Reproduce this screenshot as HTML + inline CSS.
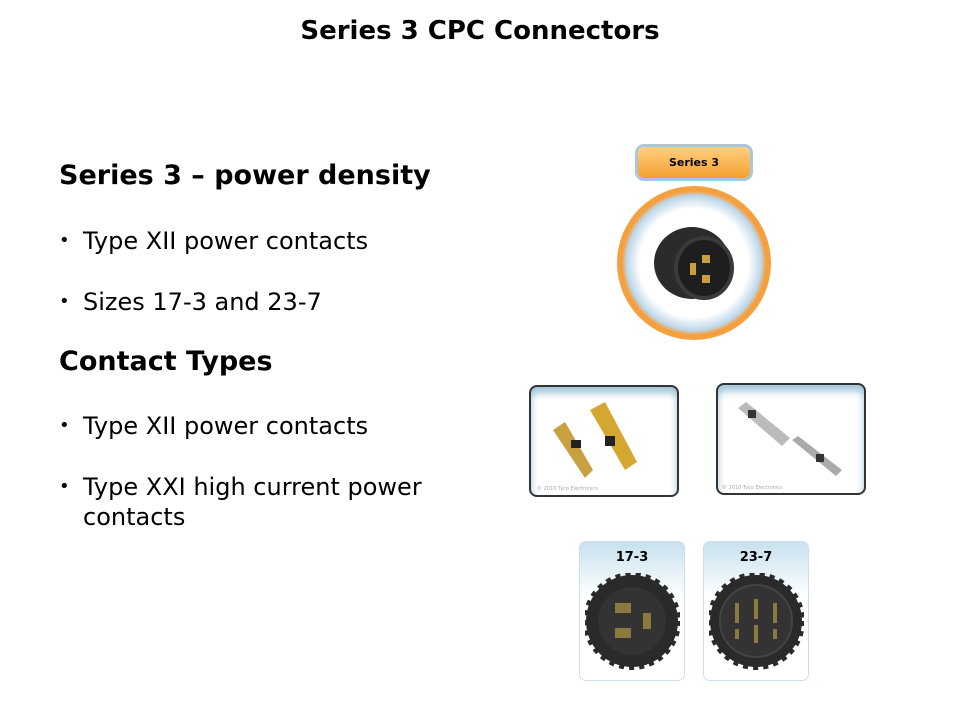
<!DOCTYPE html>
<html><head><style>
body{margin:0;width:960px;height:720px;background:#fff;position:relative;overflow:hidden;font-family:"DejaVu Sans","Liberation Sans",sans-serif;}
.t{position:absolute;color:#000;white-space:nowrap;}
h1{position:absolute;top:16px;left:0;width:960px;text-align:center;font-size:26px;margin:0;font-weight:bold;}
.h{font-size:27px;font-weight:bold;left:59px;}
.b{font-size:24px;left:59px;line-height:30px;}
.b span{position:absolute;left:0;font-size:18px;}
.b div{margin-left:24px;}
.box{position:absolute;border:2px solid #333;border-radius:8px;background:#fff;box-shadow:inset 0 6px 8px #9fc3d8;}
.cr{position:absolute;font-size:5px;color:#aaa;}
</style></head><body>
<h1>Series 3 CPC Connectors</h1>
<div class="t h" style="top:160px">Series 3 – power density</div>
<div class="t b" style="top:226px"><span>•</span><div>Type XII power contacts</div></div>
<div class="t b" style="top:287px"><span>•</span><div>Sizes 17-3 and 23-7</div></div>
<div class="t h" style="top:346px">Contact Types</div>
<div class="t b" style="top:411px"><span>•</span><div>Type XII power contacts</div></div>
<div class="t b" style="top:472px"><span>•</span><div>Type XXI high current power<br>contacts</div></div>

<div style="position:absolute;left:638px;top:147px;width:112px;height:31px;border-radius:6px;background:linear-gradient(#ffd080,#f5a030);box-shadow:0 0 0 3px #a9c6da;font-size:11px;font-weight:bold;text-align:center;line-height:31px;">Series 3</div>
<div style="position:absolute;left:617px;top:186px;width:154px;height:154px;border-radius:50%;background:radial-gradient(circle,#fff 0,#fff 50%,#bcd6e8 62%,#f5a040 66%,#f7a23a 90%,#fbd5a0 100%);"></div>
<svg style="position:absolute;left:650px;top:220px" width="90" height="90">
<ellipse cx="42" cy="43" rx="38" ry="36" fill="#2b2b2b"/>
<ellipse cx="54" cy="48" rx="28" ry="30" fill="#1e1e1e" stroke="#3a3a3a" stroke-width="4"/>
<rect x="52" y="35" width="8" height="8" fill="#c9a040"/><rect x="52" y="55" width="8" height="8" fill="#c9a040"/><rect x="40" y="43" width="6" height="12" fill="#c9a040"/>
</svg>

<div class="box" style="left:529px;top:385px;width:146px;height:108px;"></div>
<svg style="position:absolute;left:545px;top:400px" width="100" height="85">
<path d="M8 30 L20 22 L48 70 L40 78 Z" fill="#c9a040"/><path d="M45 10 L60 2 L92 62 L80 70 Z" fill="#d4a830"/>
<rect x="26" y="40" width="10" height="8" fill="#222"/><rect x="60" y="36" width="10" height="10" fill="#222"/>
</svg>
<div class="cr" style="left:537px;top:486px">© 2010 Tyco Electronics</div>
<div class="box" style="left:716px;top:383px;width:146px;height:108px;"></div>
<svg style="position:absolute;left:730px;top:400px" width="120" height="80">
<path d="M8 8 L16 2 L60 38 L52 46 Z" fill="#bbb"/><path d="M62 40 L68 36 L112 70 L106 76 Z" fill="#aaa"/>
<rect x="18" y="10" width="8" height="8" fill="#333"/><rect x="86" y="54" width="8" height="8" fill="#333"/>
</svg>
<div class="cr" style="left:722px;top:485px">© 2010 Tyco Electronics</div>

<div style="position:absolute;left:580px;top:542px;width:104px;height:138px;border-radius:6px;background:linear-gradient(#c7e1ee,#fff 40%);box-shadow:0 0 0 1px #cde;"></div>
<div style="position:absolute;left:580px;top:550px;width:104px;text-align:center;font-weight:bold;font-size:13px;">17-3</div>
<svg style="position:absolute;left:585px;top:573px" width="95" height="100">
<circle cx="47" cy="48" r="46" fill="#2a2a2a" stroke="#2a2a2a" stroke-width="6" stroke-dasharray="5 5"/>
<circle cx="47" cy="48" r="34" fill="#333"/>
<rect x="30" y="30" width="16" height="10" fill="#8a7a40"/><rect x="30" y="55" width="16" height="10" fill="#8a7a40"/><rect x="58" y="40" width="8" height="16" fill="#8a7a40"/>
</svg>
<div style="position:absolute;left:704px;top:542px;width:104px;height:138px;border-radius:6px;background:linear-gradient(#c7e1ee,#fff 40%);box-shadow:0 0 0 1px #cde;"></div>
<div style="position:absolute;left:704px;top:550px;width:104px;text-align:center;font-weight:bold;font-size:13px;">23-7</div>
<svg style="position:absolute;left:709px;top:573px" width="95" height="100">
<circle cx="47" cy="48" r="46" fill="#2a2a2a" stroke="#2a2a2a" stroke-width="6" stroke-dasharray="5 5"/>
<circle cx="47" cy="48" r="36" fill="#333" stroke="#444" stroke-width="2"/>
<rect x="26" y="30" width="4" height="20" fill="#8a7a40"/><rect x="45" y="26" width="4" height="20" fill="#8a7a40"/><rect x="64" y="30" width="4" height="20" fill="#8a7a40"/>
<rect x="45" y="52" width="4" height="18" fill="#8a7a40"/><rect x="26" y="56" width="4" height="10" fill="#8a7a40"/><rect x="64" y="56" width="4" height="10" fill="#8a7a40"/>
</svg>
</body></html>
